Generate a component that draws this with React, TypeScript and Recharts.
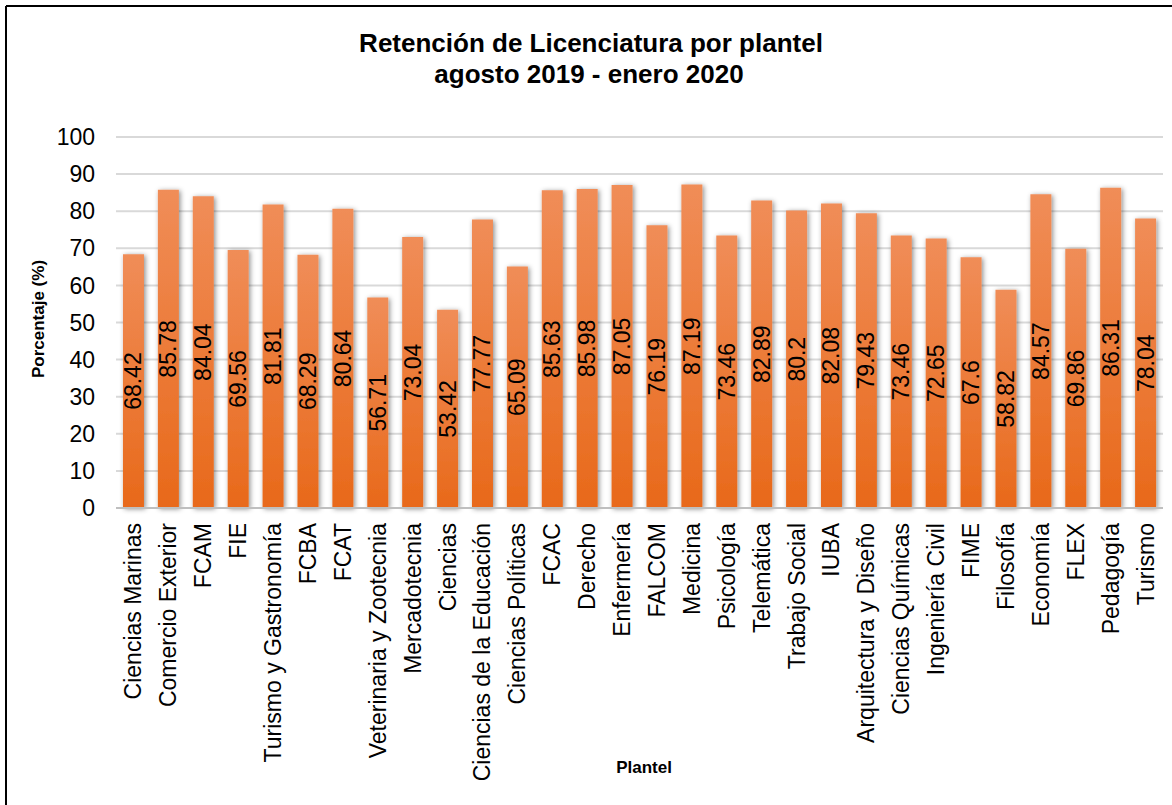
import React from "react";
import { BarChart, Bar, XAxis, YAxis, CartesianGrid, LabelList } from "recharts";

const categories: string[] = [
  "Ciencias Marinas", "Comercio Exterior", "FCAM", "FIE", "Turismo y Gastronomía",
  "FCBA", "FCAT", "Veterinaria y Zootecnia", "Mercadotecnia", "Ciencias",
  "Ciencias de la Educación", "Ciencias Políticas", "FCAC", "Derecho", "Enfermería",
  "FALCOM", "Medicina", "Psicología", "Telemática", "Trabajo Social",
  "IUBA", "Arquitectura y Diseño", "Ciencias Químicas", "Ingeniería Civil", "FIME",
  "Filosofía", "Economía", "FLEX", "Pedagogía", "Turismo",
];

const retention: number[] = [
  68.42, 85.78, 84.04, 69.56, 81.81,
  68.29, 80.64, 56.71, 73.04, 53.42,
  77.77, 65.09, 85.63, 85.98, 87.05,
  76.19, 87.19, 73.46, 82.89, 80.2,
  82.08, 79.43, 73.46, 72.65, 67.6,
  58.82, 84.57, 69.86, 86.31, 78.04,
];

const yTicks: number[] = [0, 10, 20, 30, 40, 50, 60, 70, 80, 90, 100];

const titleLines: string[] = ["Retención de Licenciatura por plantel", "agosto 2019 - enero 2020"];
const yLabel = "Porcentaje (%)";
const xLabel = "Plantel";

const data = categories.map((c, i) => ({ name: c, value: retention[i] }));

const FONT = '"Liberation Sans", Arial, Helvetica, sans-serif';

const CategoryTick = (props: any) => {
  const { x, y, payload } = props;
  const ty = y + 15;
  return (
    <text
      x={x}
      y={ty}
      transform={`rotate(-90, ${x}, ${ty})`}
      textAnchor="end"
      dominantBaseline="central"
      fontFamily={FONT}
      fontSize={23}
      fill="#000"
    >
      {payload.value}
    </text>
  );
};

const ValueLabel = (props: any) => {
  const { x, y, width, height, value } = props;
  const cx = Number(x) + Number(width) / 2;
  const cy = Number(y) + Number(height) / 2;
  return (
    <text
      x={cx}
      y={cy}
      transform={`rotate(-90, ${cx}, ${cy})`}
      textAnchor="middle"
      dominantBaseline="central"
      fontFamily={FONT}
      fontSize={23}
      fill="#000"
    >
      {value}
    </text>
  );
};

export default function App() {
  return (
    <div
      style={{
        position: "fixed",
        left: 0,
        top: 0,
        width: 1172,
        height: 805,
        overflow: "hidden",
        background: "#fff",
      }}
    >
      <div style={{ position: "absolute", left: 0, top: 0 }}>
        <BarChart
          width={1172}
          height={805}
          data={data}
          margin={{ top: 137, right: 9, left: 0, bottom: 0 }}
          barCategoryGap="20%"
        >
          <defs>
            <linearGradient id="barGrad" x1="0" y1="0" x2="0" y2="1">
              <stop offset="0%" stopColor="#F08D58" />
              <stop offset="100%" stopColor="#E8691A" />
            </linearGradient>
            <filter id="barShadow" x="-50%" y="-10%" width="200%" height="120%">
              <feDropShadow dx="1.5" dy="1" stdDeviation="2.5" floodColor="#000" floodOpacity="0.45" />
            </filter>
          </defs>
          <CartesianGrid vertical={false} stroke="#D9D9D9" strokeWidth={2} />
          <XAxis
            dataKey="name"
            interval={0}
            height={297}
            tickLine={false}
            tickSize={0}
            tickMargin={0}
            axisLine={{ stroke: "#BFBFBF", strokeWidth: 2 }}
            tick={<CategoryTick />}
          />
          <YAxis
            width={116}
            domain={[0, 100]}
            ticks={yTicks}
            interval={0}
            axisLine={false}
            tickLine={false}
            tickSize={0}
            tickMargin={21}
            tick={{ fontFamily: FONT, fontSize: 23, fill: "#000" }}
          />
          <Bar
            dataKey="value"
            fill="url(#barGrad)"
            filter="url(#barShadow)"
            isAnimationActive={false}
          >
            <LabelList dataKey="value" content={<ValueLabel />} />
          </Bar>
        </BarChart>
      </div>
      <svg
        width={1172}
        height={805}
        style={{ position: "absolute", left: 0, top: 0, pointerEvents: "none" }}
      >
        <line x1={6} y1={6} x2={1172} y2={6} stroke="#000" strokeWidth={2} />
        <line x1={6} y1={6} x2={6} y2={805} stroke="#000" strokeWidth={2} />
        <text x={591} y={52} textAnchor="middle" fontFamily={FONT} fontWeight="bold" fontSize={26} fill="#000">
          {titleLines[0]}
        </text>
        <text x={589} y={83} textAnchor="middle" fontFamily={FONT} fontWeight="bold" fontSize={26} fill="#000">
          {titleLines[1]}
        </text>
        <text
          x={38}
          y={319}
          transform="rotate(-90, 38, 319)"
          textAnchor="middle"
          dominantBaseline="central"
          fontFamily={FONT}
          fontWeight="bold"
          fontSize={17}
          fill="#000"
        >
          {yLabel}
        </text>
        <text x={644} y={773} textAnchor="middle" fontFamily={FONT} fontWeight="bold" fontSize={17} fill="#000">
          {xLabel}
        </text>
      </svg>
    </div>
  );
}
